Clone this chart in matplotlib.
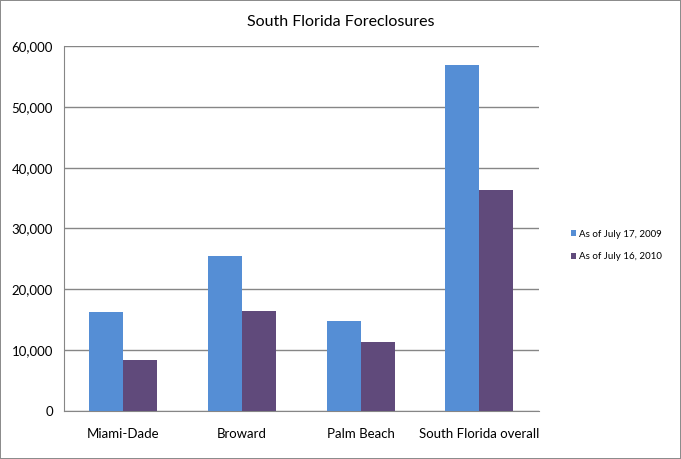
import numpy as np
import matplotlib.pyplot as plt
from matplotlib.ticker import FuncFormatter

plt.rcParams['font.family'] = ['Lato', 'DejaVu Sans']

categories = ['Miami-Dade', 'Broward', 'Palm Beach', 'South Florida overall']
series_2009 = [16300, 25500, 14800, 56900]
series_2010 = [8400, 16450, 11350, 36350]
labels = ['As of July 17, 2009', 'As of July 16, 2010']

blue = '#558ED5'
purple = '#604A7B'
grid_col = '#868686'

fig = plt.figure(figsize=(6.81, 4.59), dpi=100)
fig.patch.set_edgecolor('#8c8c8c')
fig.patch.set_linewidth(1.2)
ax = fig.add_axes([0.094, 0.1046, 0.697, 0.7952])

x = np.arange(len(categories))
w = 0.286
b1 = ax.bar(x - w / 2, series_2009, w, color=blue, label=labels[0], zorder=3)
b2 = ax.bar(x + w / 2, series_2010, w, color=purple, label=labels[1], zorder=3)

ax.set_xlim(-0.5, len(categories) - 0.5)
ax.set_ylim(0, 60000)
ax.set_yticks(np.arange(0, 60001, 10000))
ax.yaxis.set_major_formatter(FuncFormatter(lambda v, p: f'{int(v):,}'))
ax.set_xticks(x)
ax.set_xticklabels(categories)
ax.grid(axis='y', color=grid_col, linewidth=1, zorder=0)
ax.tick_params(axis='both', length=0, labelsize=9.5, colors='black')
ax.tick_params(axis='x', pad=12)
ax.tick_params(axis='y', pad=8)

for s in ['top', 'right']:
    ax.spines[s].set_visible(False)
ax.spines['left'].set_color(grid_col)
ax.spines['bottom'].set_color(grid_col)

fig.text(0.5, 0.953, 'South Florida Foreclosures', ha='center', va='center', fontsize=11.5)

fig.legend(handles=[b1, b2], loc='center left', bbox_to_anchor=(0.825, 0.465),
           frameon=False, fontsize=7, handlelength=0.6, handleheight=0.6,
           handletextpad=0.3, labelspacing=1.4)

fig.savefig('out.png', dpi=100, edgecolor=fig.get_edgecolor())
